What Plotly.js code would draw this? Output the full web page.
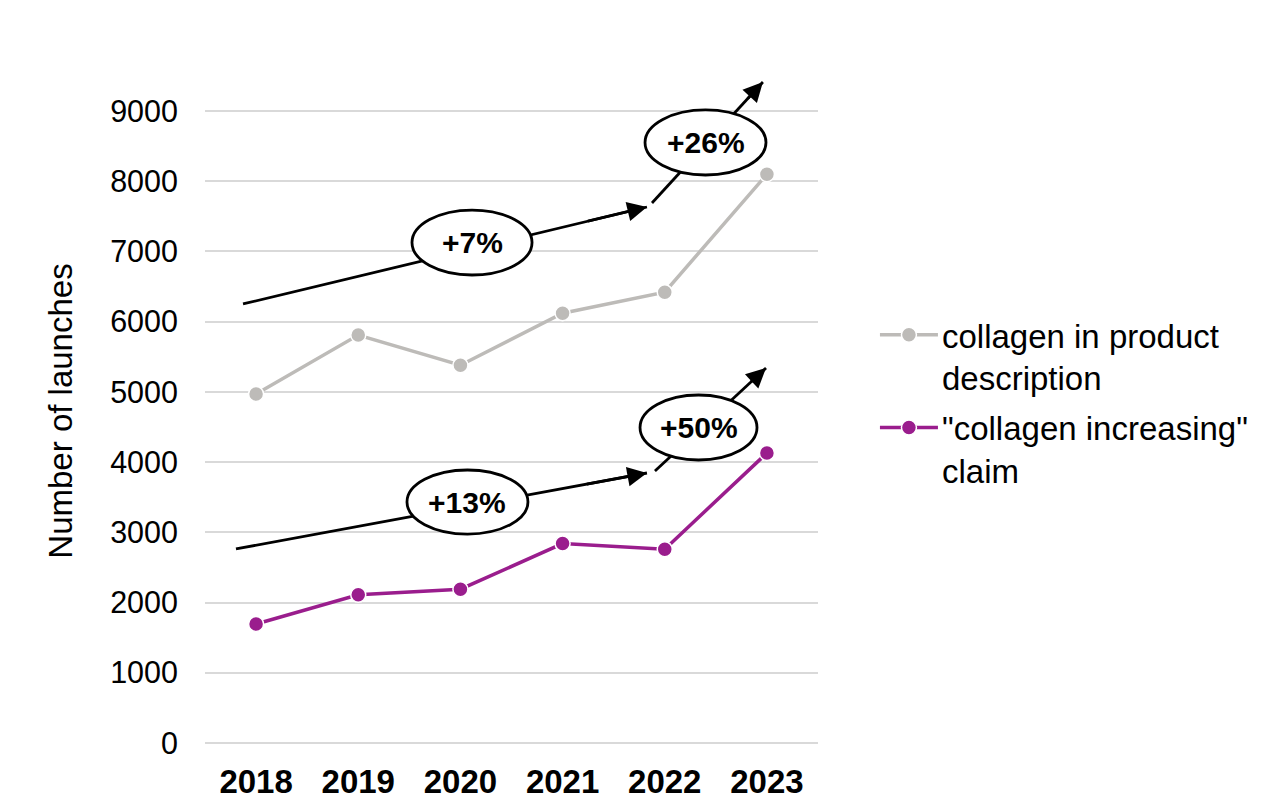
<!DOCTYPE html>
<html>
<head>
<meta charset="utf-8">
<script src="https://cdn.plot.ly/plotly-3.0.1.min.js"></script>
<style>html,body{margin:0;padding:0;background:#fff;}#chart{width:1280px;height:806px;}</style>
</head>
<body>
<div id="chart"></div>
<script>
// ---- data ----
const years = ['2018', '2019', '2020', '2021', '2022', '2023'];
const collagenDescription = [4970, 5810, 5380, 6120, 6420, 8100];
const collagenClaim = [1695, 2110, 2190, 2840, 2760, 4130];
const seriesNames = ['collagen in product<br>description', '"collagen increasing"<br>claim'];
const yTicks = [0, 1000, 2000, 3000, 4000, 5000, 6000, 7000, 8000, 9000];

// growth labels
const growthLabels = ['+7%', '+26%', '+13%', '+50%'];
// arrows: [tailX, tailY, headX, headY] (x in category index units)
const arrowSegments = [
  [-0.128, 6252, 3.826, 7633],
  [3.875, 7690, 4.961, 9413],
  [-0.197, 2763, 3.826, 3845],
  [3.904, 3874, 4.991, 5340]
];
// ellipses around labels: [x0, x1, yBottom, yTop]
const labelEllipses = [
  [1.526, 2.701, 6665, 7590],
  [3.807, 4.991, 8089, 9015],
  [1.477, 2.661, 2976, 3888],
  [3.758, 4.903, 4030, 4956]
];

const grey = '#BDBBB8';
const purple = '#9A1D8D';

const traces = [
  {
    x: years, y: collagenDescription, name: seriesNames[0], legendgroup: 'a',
    type: 'scatter', mode: 'lines+markers',
    line: {color: grey, width: 3.5},
    marker: {color: grey, size: 15, line: {color: '#ffffff', width: 1.5}},
    cliponaxis: false
  },
  {
    x: years, y: collagenClaim, name: seriesNames[1], legendgroup: 'b',
    type: 'scatter', mode: 'lines+markers',
    line: {color: purple, width: 3.5},
    marker: {color: purple, size: 15, line: {color: '#ffffff', width: 1.5}},
    cliponaxis: false
  }
];

const shapes = [];
arrowSegments.forEach(s => {
  shapes.push({type: 'line', xref: 'x', yref: 'y', x0: s[0], y0: s[1], x1: s[2], y1: s[3],
    line: {color: '#000', width: 2.8}, layer: 'above'});
});
labelEllipses.forEach(e => {
  shapes.push({type: 'circle', xref: 'x', yref: 'y', x0: e[0], x1: e[1], y0: e[2], y1: e[3],
    fillcolor: '#ffffff', line: {color: '#000', width: 2.8}, layer: 'above'});
});

const annotations = [];
arrowSegments.forEach(s => {
  const f = 0.15;
  annotations.push({
    xref: 'x', yref: 'y', axref: 'x', ayref: 'y',
    x: s[2], y: s[3],
    ax: s[2] + (s[0] - s[2]) * f, ay: s[3] + (s[1] - s[3]) * f,
    text: '', showarrow: true, arrowhead: 2, arrowsize: 1.4, arrowwidth: 2.8, arrowcolor: '#000'
  });
});
labelEllipses.forEach((e, i) => {
  annotations.push({
    xref: 'x', yref: 'y', x: (e[0] + e[1]) / 2, y: (e[2] + e[3]) / 2,
    text: '<b>' + growthLabels[i] + '</b>', showarrow: false,
    font: {family: 'Liberation Sans, Arial, sans-serif', size: 30, color: '#000'}
  });
});

const layout = {
  width: 1280, height: 806,
  paper_bgcolor: '#fff', plot_bgcolor: '#fff',
  margin: {l: 205, r: 462, t: 79, b: 63},
  font: {family: 'Liberation Sans, Arial, sans-serif', color: '#000'},
  xaxis: {
    type: 'category', range: [-0.5, 5.5],
    showgrid: false, zeroline: false, showline: false,
    ticks: '', ticklabelstandoff: 16,
    tickfont: {family: 'Liberation Sans, Arial, sans-serif', size: 33, weight: 'bold', color: '#000'}
  },
  yaxis: {
    range: [0, 9456], tickvals: yTicks, ticktext: yTicks.map(String),
    showgrid: true, gridcolor: '#D9D9D9', gridwidth: 2,
    zeroline: true, zerolinecolor: '#D9D9D9', zerolinewidth: 2,
    showline: false, ticks: '', ticklabelstandoff: 26,
    tickfont: {size: 30.5, color: '#000'},
    title: {text: 'Number of launches', font: {size: 33, color: '#000'}, standoff: 27}
  },
  legend: {
    x: 1.088, y: 0.657, xanchor: 'left', yanchor: 'top',
    font: {size: 33, color: '#000'},
    valign: 'top',
    itemwidth: 60,
    traceorder: 'grouped',
    tracegroupgap: 4,
    bgcolor: 'rgba(0,0,0,0)'
  },
  showlegend: true,
  shapes: shapes,
  annotations: annotations
};

Plotly.newPlot('chart', traces, layout, {displayModeBar: false, staticPlot: true}).then(gd => {
  // widen the legend line samples to match the reference's longer swatches
  gd.querySelectorAll('.legend .legendlines path').forEach(p => {
    p.setAttribute('d', 'M8,0h58');
  });
  gd.querySelectorAll('.legend .legendpoints path.scatterpts').forEach(p => {
    p.setAttribute('transform', 'translate(37,0)');
  });
});
</script>
</body>
</html>
